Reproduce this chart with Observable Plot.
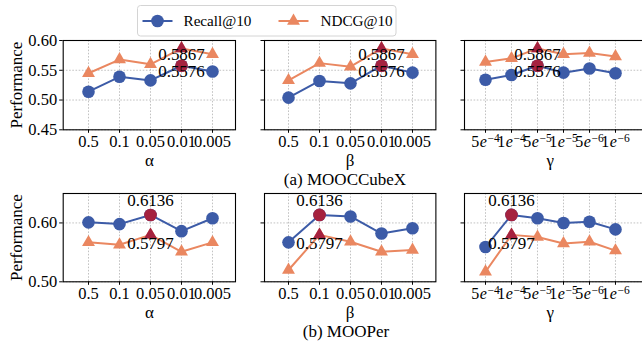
<!DOCTYPE html>
<html><head><meta charset="utf-8">
<script src="https://cdn.jsdelivr.net/npm/d3@7"></script>
<script src="https://cdn.jsdelivr.net/npm/@observablehq/plot@0.6"></script>
<style>
body{margin:0;background:#fff;}
#root{position:relative;width:642px;height:346px;overflow:hidden;color:#000;background:#fff;
  font-family:"Liberation Serif","Tinos","Times New Roman","Times","Nimbus Roman","FreeSerif","DejaVu Serif","Noto Serif",serif;}
#root svg, #root svg text, #root .cap{
  font-family:"Liberation Serif","Tinos","Times New Roman","Times","Nimbus Roman","FreeSerif","DejaVu Serif","Noto Serif",serif !important;}
#root svg g[aria-label="x-axis tick label"], #root svg g[aria-label="y-axis tick label"]{font-size:16.5px;}
.panel{position:absolute;}
.cap{position:absolute;font-size:17px;transform:translate(-50%,-50%);white-space:nowrap;line-height:1;}
</style></head><body><div id="root"></div>
<script>
// ---- data ----
const alphaLabels = ["0.5","0.1","0.05","0.01","0.005"];
const betaLabels  = ["0.5","0.1","0.05","0.01","0.005"];
const gammaLabels = ["5e-4","1e-4","5e-5","1e-5","5e-6","1e-6"];
const seriesNames = ["Recall@10","NDCG@10"];
const datasetCaptions = ["(a) MOOCCubeX","(b) MOOPer"];
const axisSymbols = ["α","β","γ"];

// MOOCCubeX
const cubeRecallAlpha = [0.514,0.539,0.533,0.5576,0.548];
const cubeNdcgAlpha   = [0.545,0.568,0.560,0.5867,0.577];
const cubeRecallBeta  = [0.504,0.532,0.528,0.5576,0.546];
const cubeNdcgBeta    = [0.533,0.562,0.556,0.5867,0.577];
const cubeRecallGamma = [0.534,0.542,0.5576,0.546,0.553,0.545];
const cubeNdcgGamma   = [0.564,0.570,0.5867,0.577,0.579,0.573];
// MOOPer
const perRecallAlpha = [0.601,0.598,0.6136,0.586,0.608];
const perNdcgAlpha   = [0.567,0.563,0.5797,0.551,0.567];
const perRecallBeta  = [0.567,0.6136,0.611,0.582,0.591];
const perNdcgBeta    = [0.520,0.5797,0.568,0.551,0.554];
const perRecallGamma = [0.559,0.6136,0.608,0.600,0.602,0.589];
const perNdcgGamma   = [0.517,0.5797,0.576,0.565,0.568,0.553];

const cubeYTicks = [0.45,0.50,0.55,0.60];
const perYTicks  = [0.50,0.60];

// ---- styling ----
const BLUE = "#3c5ba7", ORANGE = "#ea8760", RED = "#a5223f";
const FONT = "'Liberation Serif', Tinos, 'Times New Roman', Times, 'DejaVu Serif', serif";
const root = document.getElementById("root");

const rows = [
  {top:40, h:89.3, domain:[0.45,0.60], ticks:cubeYTicks, recallDy:6, ndcgDy:6, labelDy:30.5,
   sets:[[alphaLabels,cubeRecallAlpha,cubeNdcgAlpha],[betaLabels,cubeRecallBeta,cubeNdcgBeta],[gammaLabels,cubeRecallGamma,cubeNdcgGamma]]},
  {top:192.7, h:88.3, domain:[0.50,0.65], ticks:perYTicks, recallDy:-14, ndcgDy:9, labelDy:31,
   sets:[[alphaLabels,perRecallAlpha,perNdcgAlpha],[betaLabels,perRecallBeta,perNdcgBeta],[gammaLabels,perRecallGamma,perNdcgGamma]]}
];
const cols = [
  {left:62.7, w:172.3, first:71.7, step:39, ml:62.7, mr:10, labelDx:0},
  {left:264.3, w:171.4, first:272.3, step:39, ml:20, mr:10, labelDx:0},
  {left:464.3, w:180.7, first:472.3, step:31.2, ml:20, mr:0, labelDx:-4.6}
];

const gridStyle = {stroke:"#b3b3b3", strokeOpacity:1, strokeWidth:0.8, strokeDasharray:"1.6,1.6"};

rows.forEach((row, ri) => {
  cols.forEach((col, ci) => {
    const [labels, recall, ndcg] = row.sets[ci];
    const mt = 8, mb = 45;
    const recallData = labels.map((k,i) => ({k, v: recall[i]}));
    const ndcgData = labels.map((k,i) => ({k, v: ndcg[i]}));
    const bi = d3.maxIndex(recall);
    const bestR = [recallData[bi]], bestN = [ndcgData[bi]];
    const x0 = col.ml + (col.first - col.left);
    const isGamma = ci === 2;
    const marks = [
      Plot.gridX(labels, gridStyle),
      Plot.gridY(row.ticks, gridStyle),
      Plot.axisX({tickSize:3.5, tickPadding:2.4, label:null, tickFormat: d => d}),
      Plot.axisY(row.ticks, {tickSize:3.5, tickPadding:2.5, label:null,
        tickFormat: ci === 0 ? d3.format(".2f") : () => ""}),
      Plot.line(recallData, {x:"k", y:"v", stroke:BLUE, strokeWidth:2}),
      Plot.line(ndcgData, {x:"k", y:"v", stroke:ORANGE, strokeWidth:2}),
      Plot.dot(recallData, {x:"k", y:"v", r:6.3, fill:BLUE, symbol:"circle"}),
      Plot.dot(ndcgData, {x:"k", y:"v", r:4.8, fill:ORANGE, symbol:"triangle"}),
      Plot.dot(bestR, {x:"k", y:"v", r:6.3, fill:RED, symbol:"circle"}),
      Plot.dot(bestN, {x:"k", y:"v", r:4.8, fill:RED, symbol:"triangle"}),
      Plot.text(bestN, {x:"k", y:"v", text: d => d3.format(".4f")(d.v), dy: row.ndcgDy, fontSize:17, fill:"#000"}),
      Plot.text(bestR, {x:"k", y:"v", text: d => d3.format(".4f")(d.v), dy: row.recallDy, fontSize:17, fill:"#000"}),
      Plot.text([axisSymbols[ci]], {text: d => d, frameAnchor:"bottom", lineAnchor:"middle", textAnchor:"middle",
        dy: row.labelDy, dx: col.labelDx, fontSize:17, fill:"#000"}),
      Plot.frame({stroke:"#000", strokeWidth:1.1})
    ];
    if (ci === 0) marks.push(Plot.text(["Performance"], {text: d => d, frameAnchor:"left", textAnchor:"middle",
      lineAnchor:"middle", rotate:-90, dx:-46.7, fontSize:17, fill:"#000"}));
    const svg = Plot.plot({
      width: col.ml + col.w + col.mr,
      height: mt + row.h + mb,
      marginLeft: col.ml, marginRight: col.mr, marginTop: mt, marginBottom: mb,
      x: {type:"point", domain: labels, range:[x0, x0 + col.step*(labels.length-1)]},
      y: {domain: row.domain, range:[mt + row.h, mt]},
      style: {fontFamily: FONT, fontSize:"17px", background:"transparent", overflow:"visible", color:"#000"},
      marks
    });
    svg.setAttribute("font-family", FONT);
    svg.setAttribute("font-size", "17");
    svg.classList.add("panel");
    svg.style.left = (col.left - col.ml) + "px";
    svg.style.top = (row.top - mt) + "px";
    svg.style.maxWidth = "none";
    if (isGamma) {
      svg.querySelectorAll('g[aria-label="x-axis tick label"] text').forEach(t => {
        const s = t.textContent;
        const [mant, ex] = s.split("e");
        t.textContent = "";
        t.setAttribute("font-size", "16");
        const ns = "http://www.w3.org/2000/svg";
        const a = document.createElementNS(ns, "tspan"); a.textContent = mant; t.appendChild(a);
        const b = document.createElementNS(ns, "tspan"); b.textContent = "e"; b.setAttribute("font-style","italic");
        b.setAttribute("dx","0.4"); t.appendChild(b);
        const c = document.createElementNS(ns, "tspan"); c.textContent = ex.replace("-", "\u2212");
        c.setAttribute("font-size","11.5"); c.setAttribute("dy","-0.45em"); c.setAttribute("dx","0.6"); t.appendChild(c);
      });
    }
    root.appendChild(svg);
  });
});

// captions
[[datasetCaptions[0], 345, 178.5],[datasetCaptions[1], 346, 330.5]].forEach(([txt,x,y]) => {
  const d = document.createElement("div");
  d.className = "cap"; d.textContent = txt;
  d.style.left = x + "px"; d.style.top = y + "px";
  root.appendChild(d);
});

// legend
const lg = d3.select(root).append("svg")
  .attr("width", 260).attr("height", 32)
  .style("position","absolute").style("left","136.5px").style("top","4.5px")
  .attr("font-family", FONT).attr("font-size","15.2");
lg.append("rect").attr("x",0.5).attr("y",0.5).attr("width",258.5).attr("height",30.5)
  .attr("rx",3).attr("fill","#fff").attr("stroke","#d4d4d4").attr("stroke-width",1);
const items = [
  {name: seriesNames[0], color: BLUE, sym: d3.symbolCircle, r:6.3, lx:5.5, tx:46.5},
  {name: seriesNames[1], color: ORANGE, sym: d3.symbolTriangle, r:4.8, lx:141.5, tx:183.5}
];
items.forEach(it => {
  lg.append("line").attr("x1", it.lx).attr("x2", it.lx+30).attr("y1",16).attr("y2",16)
    .attr("stroke", it.color).attr("stroke-width", 2);
  lg.append("path").attr("d", d3.symbol(it.sym, Math.PI*it.r*it.r)())
    .attr("transform", `translate(${it.lx+15},16)`).attr("fill", it.color);
  lg.append("text").attr("x", it.tx).attr("y", 16).attr("dy","0.35em").attr("fill","#000").text(it.name);
});
</script></body></html>
